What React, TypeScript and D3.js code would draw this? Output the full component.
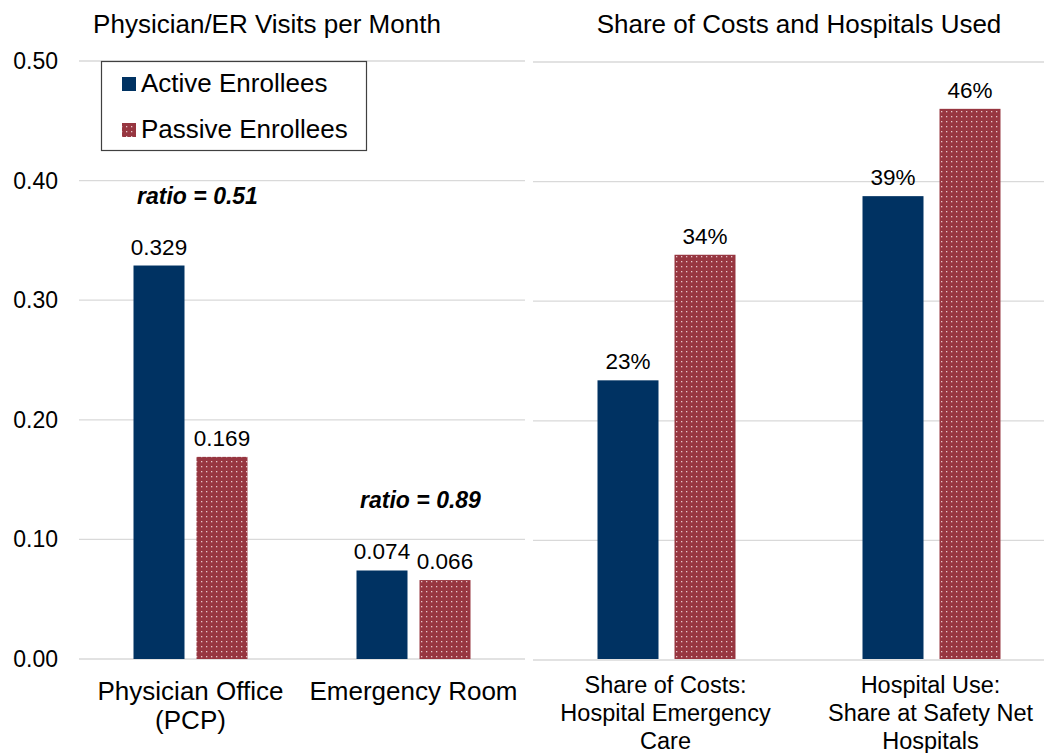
import * as d3 from "d3";
import { useEffect, useRef } from "react";

const leftCategories = [["Physician Office", "(PCP)"], ["Emergency Room"]];
const leftActive = [0.329, 0.074];
const leftPassive = [0.169, 0.066];
const leftRatios = ["ratio = 0.51", "ratio = 0.89"];

const rightCategories = [
  ["Share of Costs:", "Hospital Emergency", "Care"],
  ["Hospital Use:", "Share at Safety Net", "Hospitals"],
];
const rightActive = [0.233, 0.387];
const rightPassive = [0.338, 0.46];
const rightLabelsActive = ["23%", "39%"];
const rightLabelsPassive = ["34%", "46%"];

const yTicks = [0, 0.1, 0.2, 0.3, 0.4, 0.5];
const seriesNames = ["Active Enrollees", "Passive Enrollees"];

const NAVY = "#003262";
const RED = "#973640";
const FONT = "Liberation Sans, Arial, sans-serif";

export default function App() {
  const ref = useRef<SVGSVGElement>(null);

  useEffect(() => {
    const svg = d3.select(ref.current);
    svg.selectAll("*").remove();

    const width = 1044,
      height = 753;

    const defs = svg.append("defs");
    const pat = defs
      .append("pattern")
      .attr("id", "dots")
      .attr("patternUnits", "userSpaceOnUse")
      .attr("width", 5)
      .attr("height", 5);
    pat.append("rect").attr("width", 5).attr("height", 5).attr("fill", RED);
    pat
      .append("rect")
      .attr("x", 1)
      .attr("y", 1)
      .attr("width", 1.3)
      .attr("height", 1.3)
      .attr("fill", "#e8c8cc");

    svg.append("rect").attr("width", width).attr("height", height).attr("fill", "#fff");

    const y = d3.scaleLinear().domain([0, 0.5]).range([659, 61]);

    // ----- left panel
    const xL = d3
      .scaleBand()
      .domain(leftCategories.map((d) => d[0]))
      .range([79, 525]);

    const gL = svg.append("g");
    gL.selectAll("line.grid")
      .data(yTicks)
      .join("line")
      .attr("x1", 79)
      .attr("x2", 525)
      .attr("y1", (d) => y(d))
      .attr("y2", (d) => y(d))
      .attr("stroke", "#d9d9d9")
      .attr("stroke-width", 1.3);

    gL.selectAll("text.tick")
      .data(yTicks)
      .join("text")
      .attr("x", 58)
      .attr("y", (d) => y(d) + 8)
      .attr("text-anchor", "end")
      .attr("font-size", 23)
      .attr("font-family", FONT)
      .text((d) => d3.format(".2f")(d));

    const bwL = 51,
      gapL = 12;
    leftCategories.forEach((cat, i) => {
      const c = xL(cat[0])! + xL.bandwidth() / 2;
      const xa = c - gapL / 2 - bwL;
      const xp = c + gapL / 2;
      gL.append("rect").attr("x", xa).attr("width", bwL).attr("y", y(leftActive[i])).attr("height", y(0) - y(leftActive[i])).attr("fill", NAVY);
      gL.append("rect").attr("x", xp).attr("width", bwL).attr("y", y(leftPassive[i])).attr("height", y(0) - y(leftPassive[i])).attr("fill", "url(#dots)");
      gL.append("text").attr("x", xa + bwL / 2).attr("y", y(leftActive[i]) - 11).attr("text-anchor", "middle").attr("font-size", 22.5).attr("font-family", FONT).text(leftActive[i].toFixed(3));
      gL.append("text").attr("x", xp + bwL / 2).attr("y", y(leftPassive[i]) - 11).attr("text-anchor", "middle").attr("font-size", 22.5).attr("font-family", FONT).text(leftPassive[i].toFixed(3));
      gL.append("text")
        .attr("x", c + 7)
        .attr("y", y(Math.max(leftActive[i], leftPassive[i])) - 62)
        .attr("text-anchor", "middle")
        .attr("font-size", 23)
        .attr("font-weight", "bold")
        .attr("font-style", "italic")
        .attr("font-family", FONT)
        .text(leftRatios[i]);
      cat.forEach((line, j) => {
        gL.append("text").attr("x", c).attr("y", 700 + j * 29).attr("text-anchor", "middle").attr("font-size", 26).attr("font-family", FONT).text(line);
      });
    });

    svg.append("text").attr("x", 267).attr("y", 33).attr("text-anchor", "middle").attr("font-size", 26).attr("font-family", FONT).text("Physician/ER Visits per Month");

    // legend
    const lg = svg.append("g");
    lg.append("rect").attr("x", 101.5).attr("y", 61.5).attr("width", 265).attr("height", 89).attr("fill", "#fff").attr("stroke", "#404040").attr("stroke-width", 1.2);
    seriesNames.forEach((name, i) => {
      const yy = 77 + i * 46;
      lg.append("rect").attr("x", 122).attr("y", yy).attr("width", 14).attr("height", 14).attr("fill", i === 0 ? NAVY : "url(#dots)");
      lg.append("text").attr("x", 141).attr("y", yy + 15).attr("font-size", 26).attr("font-family", FONT).text(name);
    });

    // ----- right panel
    const xR = d3
      .scaleBand()
      .domain(rightCategories.map((d) => d[0]))
      .range([534, 1064]);

    const gR = svg.append("g");
    gR.selectAll("line.grid")
      .data(yTicks)
      .join("line")
      .attr("x1", 533)
      .attr("x2", 1044)
      .attr("y1", (d) => y(d) + 1)
      .attr("y2", (d) => y(d) + 1)
      .attr("stroke", "#d9d9d9")
      .attr("stroke-width", 1.3);

    const bwR = 61,
      gapR = 16;
    rightCategories.forEach((cat, i) => {
      const c = xR(cat[0])! + xR.bandwidth() / 2;
      const xa = c - gapR / 2 - bwR;
      const xp = c + gapR / 2;
      gR.append("rect").attr("x", xa).attr("width", bwR).attr("y", y(rightActive[i])).attr("height", y(0) - y(rightActive[i])).attr("fill", NAVY);
      gR.append("rect").attr("x", xp).attr("width", bwR).attr("y", y(rightPassive[i])).attr("height", y(0) - y(rightPassive[i])).attr("fill", "url(#dots)");
      gR.append("text").attr("x", xa + bwR / 2).attr("y", y(rightActive[i]) - 11).attr("text-anchor", "middle").attr("font-size", 22.5).attr("font-family", FONT).text(rightLabelsActive[i]);
      gR.append("text").attr("x", xp + bwR / 2).attr("y", y(rightPassive[i]) - 11).attr("text-anchor", "middle").attr("font-size", 22.5).attr("font-family", FONT).text(rightLabelsPassive[i]);
      cat.forEach((line, j) => {
        gR.append("text").attr("x", c - 1).attr("y", 693 + j * 28).attr("text-anchor", "middle").attr("font-size", 23.5).attr("font-family", FONT).text(line);
      });
    });

    svg.append("text").attr("x", 799).attr("y", 33).attr("text-anchor", "middle").attr("font-size", 26).attr("font-family", FONT).text("Share of Costs and Hospitals Used");
  }, []);

  return (
    <svg
      ref={ref}
      width={1044}
      height={753}
      style={{ position: "absolute", left: 0, top: 0 }}
    ></svg>
  );
}
